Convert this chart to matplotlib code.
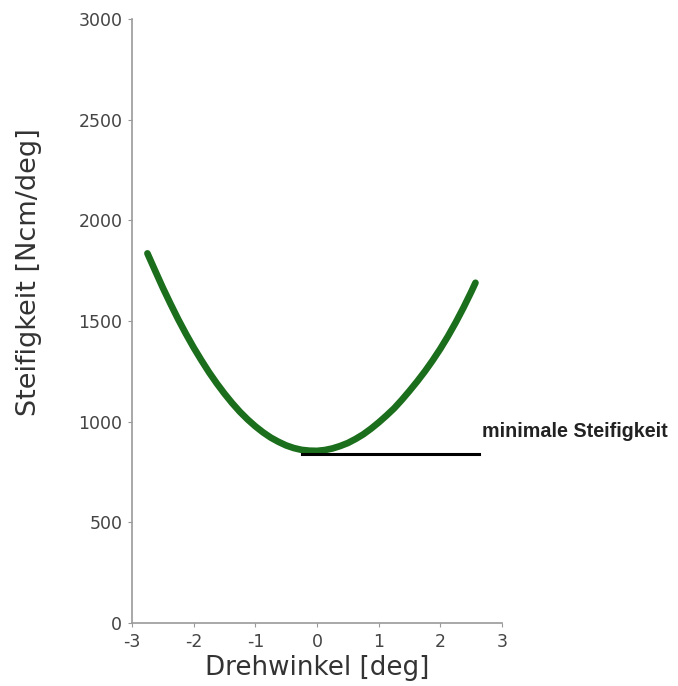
import numpy as np
import matplotlib.pyplot as plt

plt.rcParams['axes.unicode_minus'] = False

# Drehwinkel [deg] und Steifigkeit [Ncm/deg]
winkel = [-2.75, -2.625, -2.5, -2.375, -2.25, -2.125, -2.0, -1.875, -1.75, -1.625,
          -1.5, -1.375, -1.25, -1.125, -1.0, -0.875, -0.75, -0.625, -0.5, -0.375,
          -0.25, -0.125, 0.0, 0.125, 0.25, 0.375, 0.5, 0.625, 0.75, 0.875,
          1.0, 1.125, 1.25, 1.375, 1.5, 1.625, 1.75, 1.875, 2.0, 2.125,
          2.25, 2.375, 2.5, 2.57]
steifigkeit = [1836, 1750, 1665, 1585, 1508, 1436, 1368, 1305, 1245, 1190,
               1139, 1092, 1049, 1011, 977, 947, 921, 900, 882, 869,
               860, 856, 855, 859, 867, 879, 894, 914, 937, 965,
               996, 1030, 1066, 1108, 1153, 1200, 1250, 1304, 1362, 1425,
               1493, 1566, 1644, 1690]

# minimale Steifigkeit
min_x = [-0.25, 2.63]
min_y = [838, 838]
min_text = 'minimale Steifigkeit'

xticks = [-3, -2, -1, 0, 1, 2, 3]
yticks = [0, 500, 1000, 1500, 2000, 2500, 3000]

fig = plt.figure(figsize=(6.78, 6.86), dpi=100)
ax = fig.add_axes([0.1947, 0.0918, 0.5457, 0.8805])

ax.plot(winkel, steifigkeit, color='#1b6e1b', lw=4.8, solid_capstyle='round')
ax.plot(min_x, min_y, color='black', lw=2.2)
ax.text(2.675, 949, min_text, fontsize=14.2, fontweight='bold', color='#222222',
        family='Liberation Sans', va='center', ha='left', clip_on=False)

ax.set_xlim(-3, 3)
ax.set_ylim(0, 3000)
ax.set_xticks(xticks)
ax.set_yticks(yticks)

for s in ['top', 'right']:
    ax.spines[s].set_visible(False)
for s in ['left', 'bottom']:
    ax.spines[s].set_color('#999999')
    ax.spines[s].set_linewidth(1.2)

ax.tick_params(colors='#999999', labelcolor='#444444', labelsize=12.5, length=3, pad=4)
ax.set_xlabel('Drehwinkel [deg]', fontsize=18.8, color='#333333', labelpad=3)
ax.set_ylabel('Steifigkeit [Ncm/deg]', fontsize=19.5, color='#333333')
ax.yaxis.set_label_coords(-0.243, 0.581)

fig.savefig('out.png', dpi=100)
